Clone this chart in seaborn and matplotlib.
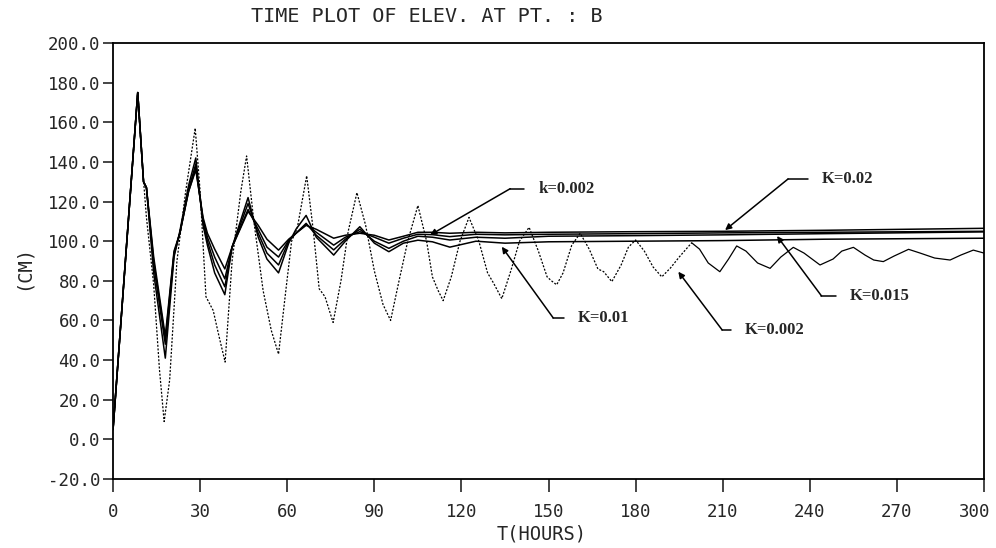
import pandas as pd
import matplotlib
matplotlib.use("Agg")
import matplotlib.pyplot as plt
import matplotlib.transforms as mtransforms
import seaborn as sns

# ---- values (hours, cm) ----
# strongly oscillating run (dotted curve, K=0.002)
t_osc = [0, 2, 5, 8.5, 10, 11.5, 14, 16, 17.6, 19.5, 22, 25, 28.3, 30, 32, 34.5,
         36.5, 38.6, 41, 44, 46, 48.5, 51.7, 54.5, 57, 59.5, 61.5, 63.5, 66.7, 69,
         71, 73, 75.8, 78.5, 81, 84, 87, 90, 93, 95.6, 98.5, 101.5, 105, 108, 110,
         112, 113.7, 116.5, 119.5, 122.6, 126, 129, 131, 133.9, 137, 140, 143.3,
         146.5, 149.5, 151, 152.8, 155, 158, 160.9, 164, 167, 169, 171.8, 175,
         177.5, 180, 183, 186, 189, 192, 195, 199.3, 202, 205, 209, 212, 214.8,
         218, 222, 226.3, 230, 234.3, 238, 243.5, 248, 251, 255, 259, 262, 265.3,
         269, 274, 278, 283, 288.3, 292, 296.3, 300]
elev_osc = [5, 45, 105, 175, 140, 112, 78, 35, 9, 30, 90, 125, 157, 125, 72, 65,
            52, 39, 90, 125, 143, 110, 75, 55, 43, 75, 100, 107, 133, 105,
            76, 72, 59, 80, 105, 124.5, 108, 85, 68, 60, 80, 100, 118, 100, 82,
            75, 70, 82, 100, 112, 100, 84, 79, 71, 85, 100, 107,
            95, 82, 80, 78, 84, 98, 104, 96, 86, 84.6, 79.6, 88,
            97, 100.6, 95, 87, 82, 86.5, 92, 99.2, 96, 89, 84.6, 91, 97.6,
            95, 89, 86.3, 92, 96.9, 94, 88, 91, 95, 96.9, 93, 90.5, 89.7,
            92.5, 95.9, 94, 91.5, 90.5, 93, 95.5, 94]

# damped runs (solid curves)
t_damp = [0, 8.5, 10.5, 11.5, 14, 18, 21, 23, 26, 28.5, 31, 32.5, 35, 38.5, 41,
          46.5, 50, 53, 57, 60.5, 63, 66.5, 70, 76, 80, 85, 90, 95, 100, 105,
          110, 116, 125, 135, 150, 180, 210, 245, 300]
elev_K002 = [5, 175, 130, 127, 92, 52, 95, 104, 125, 136, 112, 104, 96, 86, 97,
             115, 108, 101, 95.5, 101, 104, 108, 106, 101.5, 103, 104, 103, 100.6, 102.5, 104.5,
             104.5, 104, 104.5, 104.2, 104.5, 104.8, 105, 105.5, 106.5]
elev_k0002 = [5, 175, 130, 127, 90, 50, 94, 104, 125, 137, 111, 102, 92, 81, 97,
              116, 106, 97, 92, 100.5, 104, 108.5, 104.5, 98, 102, 104.8, 102, 99, 101.5, 103.5,
              103.3, 102.3, 103.5, 103.2, 103.5, 103.8, 104.2, 104.5, 105]
elev_K0015 = [5, 175, 130, 127, 88, 48, 93, 104, 126, 139, 110, 100, 88, 77, 97,
              119, 104, 94, 88, 100, 104, 109, 103, 95.6, 101, 106, 100, 96.4, 100, 102.5,
              102, 100.6, 102, 101.5, 102.5, 102.8, 103.2, 103.8, 104.7]
elev_K001 = [5, 175, 130, 127, 84, 41, 92, 105, 128, 142, 108, 98, 84, 73, 97,
             122, 102, 91, 84, 99, 106, 113, 102, 93, 100, 107.3, 99, 94.7, 99, 100.5,
             99.7, 97, 100, 99, 99.7, 100, 100.3, 101, 101.5]

x_ticks = list(range(0, 301, 30))
y_ticks = list(range(-20, 201, 20))

# curve labels: (text, arrow tip, elbow of leader, text position)
labels = [
    ("k=0.002", (109.2, 103.1), (136.8, 126.5), (146.4, 126.5)),
    ("K=0.02", (210.8, 105.6), (232.5, 131.4), (244.2, 131.4)),
    ("K=0.015", (228.7, 102.6), (244.0, 72.4), (253.9, 72.4)),
    ("K=0.01", (133.9, 97.2), (151.6, 61.3), (160.2, 61.3)),
    ("K=0.002", (194.7, 84.6), (209.8, 55.2), (217.7, 55.2)),
]

sns.set_style("ticks")
plt.rcParams['font.family'] = ['DejaVu Sans Mono', 'DejaVu Sans']

damped = pd.concat([
    pd.DataFrame({'t': t_damp, 'elev': v, 'run': name})
    for name, v in [('K=0.02', elev_K002), ('k=0.002', elev_k0002),
                    ('K=0.015', elev_K0015), ('K=0.01', elev_K001)]
])
osc = pd.DataFrame({'t': t_osc, 'elev': elev_osc})

fig = plt.figure(figsize=(9.96, 5.48), dpi=100)
ax = fig.add_axes([0.1135, 0.1259, 0.8745, 0.7956])

sns.lineplot(data=damped, x='t', y='elev', hue='run', units='run', estimator=None,
             palette={r: 'black' for r in damped['run'].unique()}, linewidth=1.1,
             legend=False, ax=ax, sort=False)
# the scanned dotted trace reads as solid past ~200 h
sns.lineplot(data=osc[osc['t'] <= 199.3], x='t', y='elev', color='black', linewidth=0.9,
             linestyle=(0, (1.6, 1.3)), ax=ax, sort=False)
sns.lineplot(data=osc[osc['t'] >= 199.3], x='t', y='elev', color='black', linewidth=0.9,
             ax=ax, sort=False)

for text, tip, elbow, tpos in labels:
    ax.plot([elbow[0], tpos[0] - 5], [elbow[1], elbow[1]], color='black', lw=1.1)
    ax.annotate('', xy=tip, xytext=elbow,
                arrowprops=dict(arrowstyle='-|>', color='black', lw=1.1,
                                shrinkA=0, shrinkB=0, mutation_scale=9))
    ax.text(tpos[0], tpos[1], text, family='Liberation Serif', fontweight='bold',
            fontsize=12, ha='left', va='center')

ax.set_xlim(0, 300)
ax.set_ylim(-20, 200)
ax.set_xticks(x_ticks)
ax.set_xticklabels([str(x) for x in x_ticks])
ax.set_yticks(y_ticks)
ax.set_yticklabels([f"{y:.1f}" for y in y_ticks])
ax.tick_params(axis='x', direction='out', length=9.5, width=1.2, pad=8, labelsize=12.5)
ax.tick_params(axis='y', direction='out', length=7, width=1.2, pad=2, labelsize=12.5)
# nudge the last x label inside the figure, as on the original
last = ax.get_xticklabels()[-1]
last.set_transform(last.get_transform() +
                   mtransforms.ScaledTranslation(-9 / 100, 0, fig.dpi_scale_trans))
for s in ax.spines.values():
    s.set_linewidth(1.3)
    s.set_color('black')

ax.set_xlabel("T(HOURS)", fontsize=13.5)
ax.set_ylabel("(CM)", fontsize=13.5)
ax.xaxis.set_label_coords(0.4925, -0.105)
ax.yaxis.set_label_coords(-0.092, 0.484)
fig.text(427 / 996, 1 - 17 / 548, "TIME PLOT OF ELEV. AT PT. : B", fontsize=14.5,
         ha='center', va='center')

fig.savefig("out.png", dpi=100)
